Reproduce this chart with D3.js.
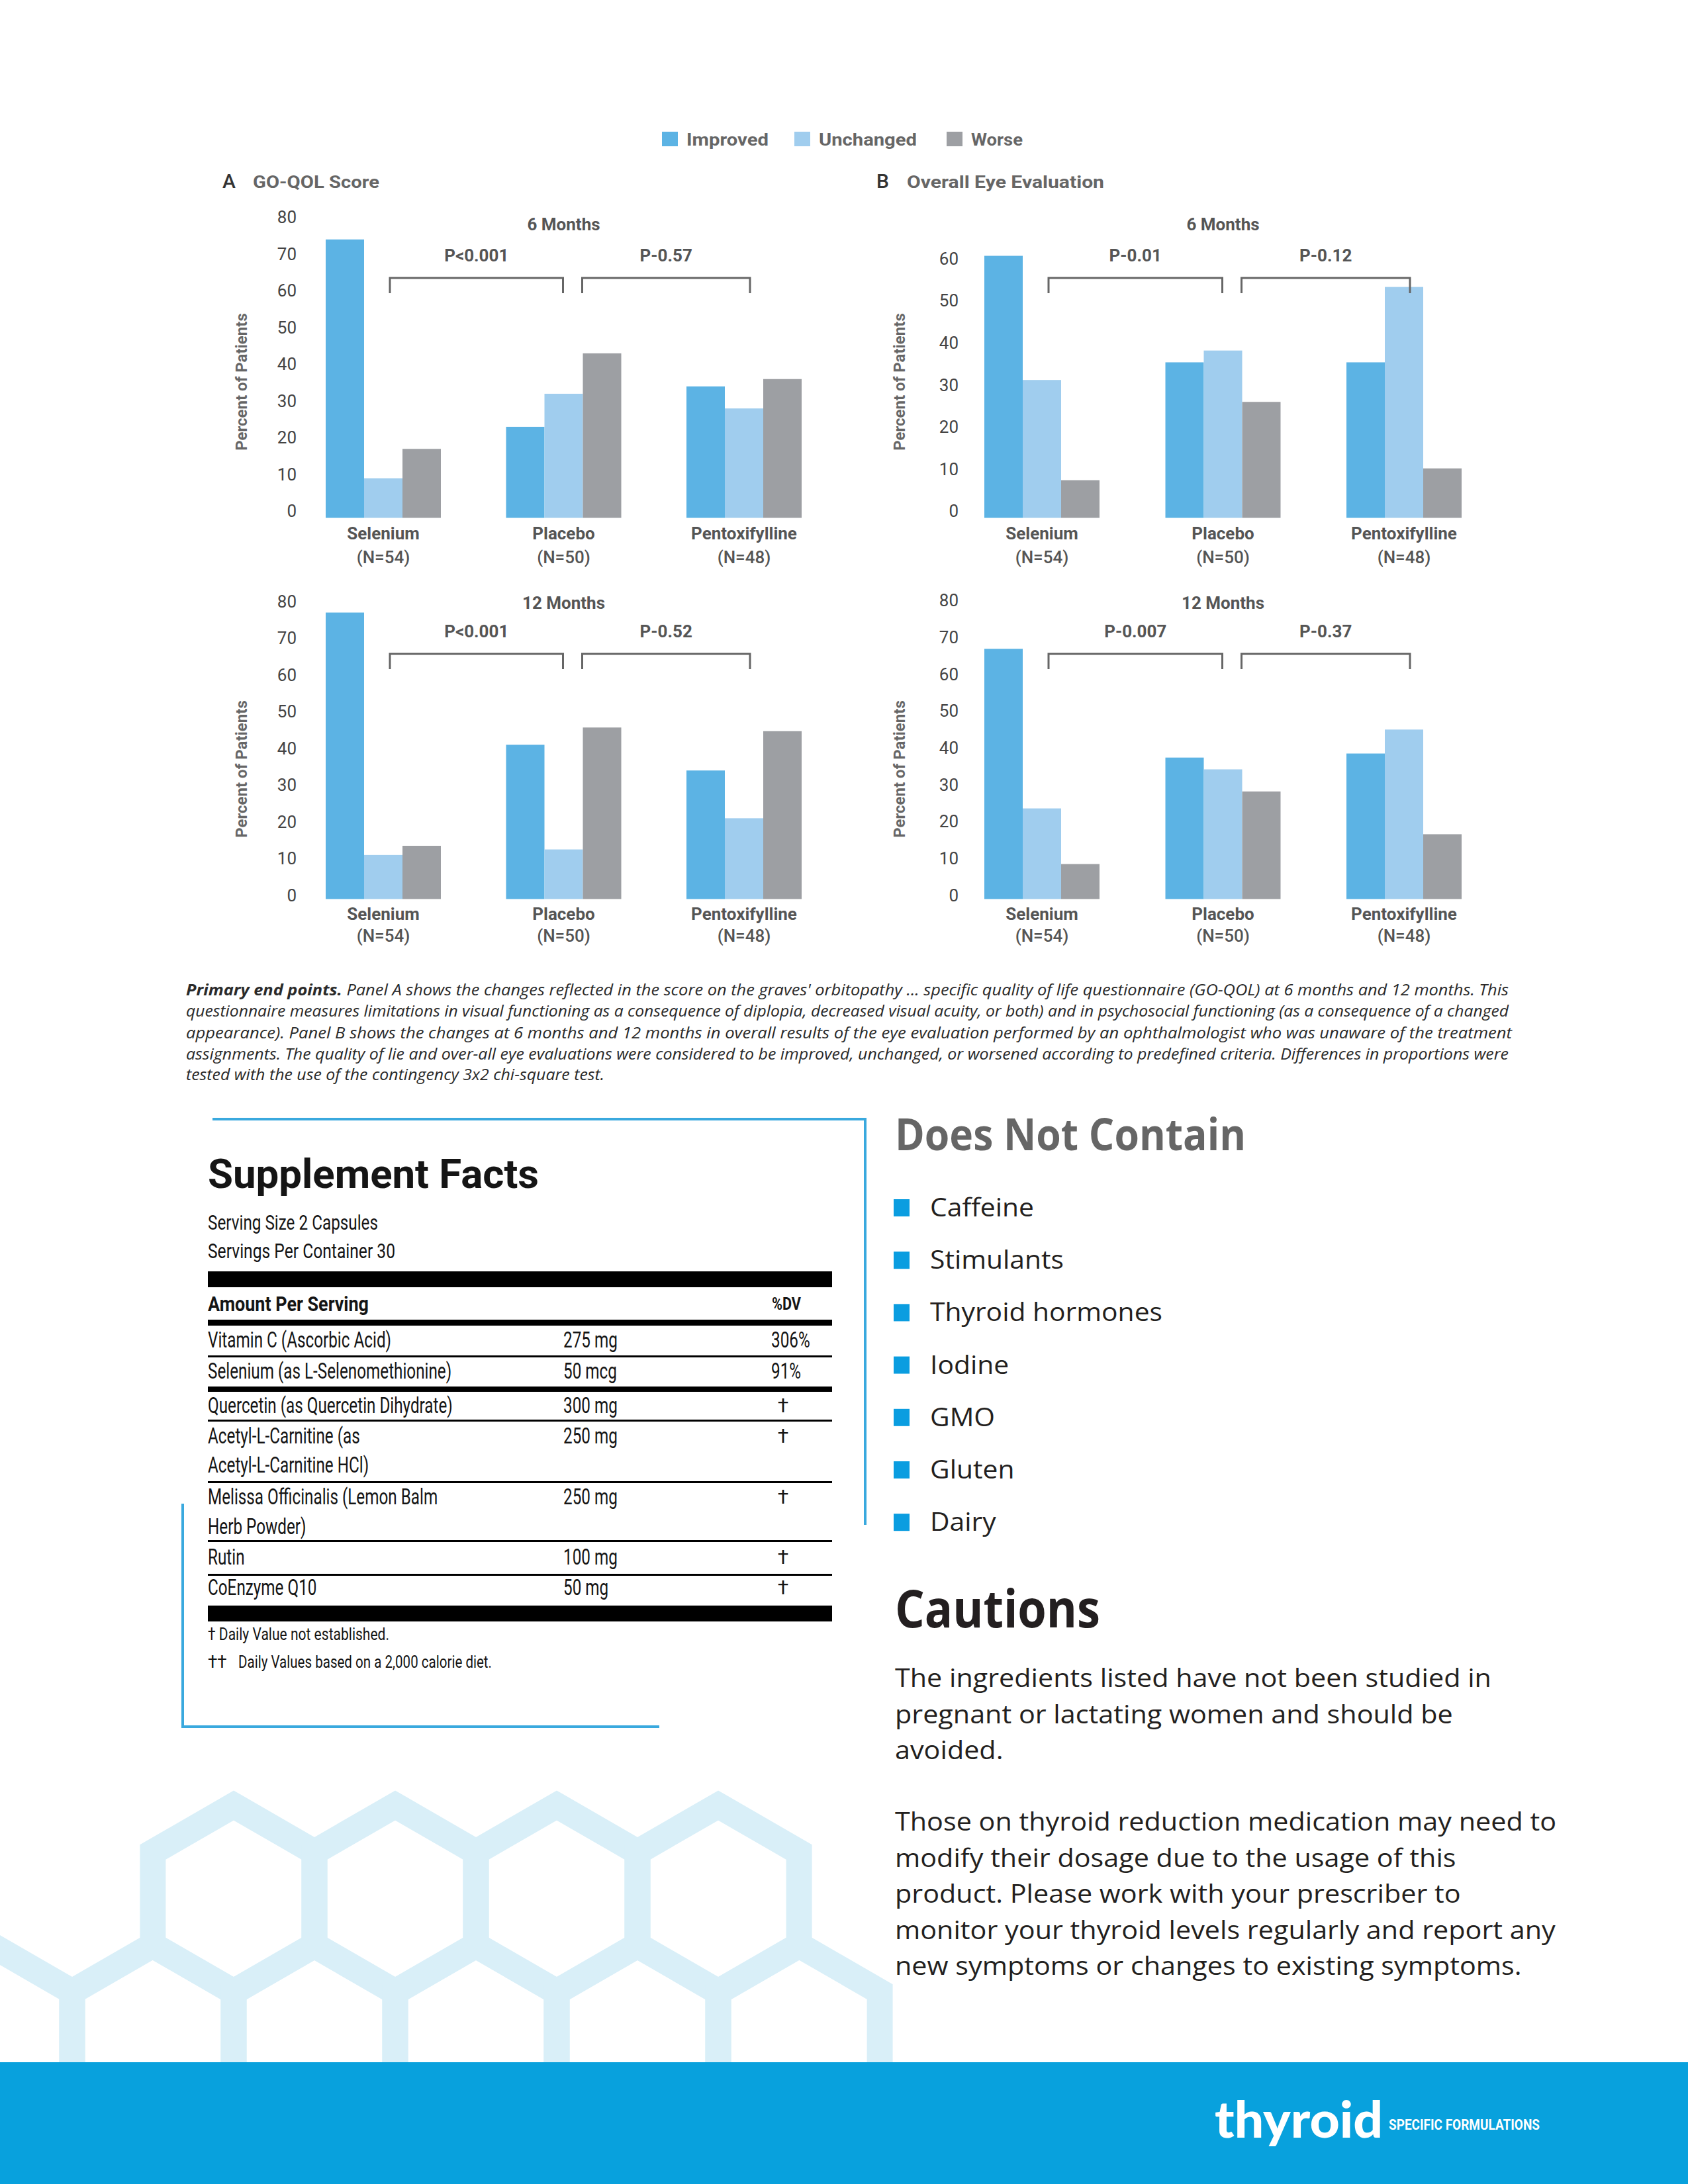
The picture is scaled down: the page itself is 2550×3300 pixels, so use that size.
<!DOCTYPE html>
<html><head><meta charset="utf-8">
<script src="https://cdn.jsdelivr.net/npm/d3@7"></script>
<style>
html,body{margin:0;padding:0;background:#fff;}
svg{display:block;}
</style></head><body>
<svg id="page" width="2550" height="3300"></svg>
<script>
// ---------------- DATA ----------------
const categories = ["Selenium", "Placebo", "Pentoxifylline"];
const groupSizes = ["(N=54)", "(N=50)", "(N=48)"];
const seriesNames = ["Improved", "Unchanged", "Worse"];
const seriesColors = ["#5cb3e4", "#a0cdee", "#9d9fa3"];

// Panel A – GO-QOL score
const goqol6Improved  = [74, 23, 34];
const goqol6Unchanged = [9, 32, 28];
const goqol6Worse     = [17, 43, 36];
const goqol12Improved  = [77, 41, 34];
const goqol12Unchanged = [11, 12.5, 21];
const goqol12Worse     = [13.5, 45.7, 44.7];
// Panel B – Overall eye evaluation
const eye6Improved  = [60.7, 35.4, 35.4];
const eye6Unchanged = [31.2, 38.2, 53.3];
const eye6Worse     = [7.4, 26, 10.2];
const eye12Improved  = [66.9, 37.4, 38.5];
const eye12Unchanged = [23.6, 34.2, 45];
const eye12Worse     = [8.5, 28.2, 16.6];

const ticks80 = [0, 10, 20, 30, 40, 50, 60, 70, 80];
const ticks60 = [0, 10, 20, 30, 40, 50, 60];
const pLabelsA6 = ["P<0.001", "P-0.57"];
const pLabelsA12 = ["P<0.001", "P-0.52"];
const pLabelsB6 = ["P-0.01", "P-0.12"];
const pLabelsB12 = ["P-0.007", "P-0.37"];

const captionLines = [
  " Panel A shows the changes reflected in the score on the graves' orbitopathy ... specific quality of life questionnaire (GO-QOL) at 6 months and 12 months. This",
  "questionnaire measures limitations in visual functioning as a consequence of diplopia, decreased visual acuity, or both) and in psychosocial functioning (as a consequence of a changed",
  "appearance). Panel B shows the changes at 6 months and 12 months in overall results of the eye evaluation performed by an ophthalmologist who was unaware of the treatment",
  "assignments. The quality of lie and over-all eye evaluations were considered to be improved, unchanged, or worsened according to predefined criteria. Differences in proportions were",
  "tested with the use of the contingency 3x2 chi-square test."
];

const ingredientNames = [["Vitamin C (Ascorbic Acid)"], ["Selenium (as L-Selenomethionine)"], ["Quercetin (as Quercetin Dihydrate)"],
  ["Acetyl-L-Carnitine (as", "Acetyl-L-Carnitine HCl)"], ["Melissa Officinalis (Lemon Balm", "Herb Powder)"], ["Rutin"], ["CoEnzyme Q10"]];
const ingredientAmounts = ["275 mg", "50 mcg", "300 mg", "250 mg", "250 mg", "100 mg", "50 mg"];
const ingredientDV = ["306%", "91%", "†", "†", "†", "†", "†"];

const notContainItems = ["Caffeine", "Stimulants", "Thyroid hormones", "Iodine", "GMO", "Gluten", "Dairy"];
const cautionPara1 = ["The ingredients listed have not been studied in", "pregnant or lactating women and should be", "avoided."];
const cautionPara2 = ["Those on thyroid reduction medication may need to", "modify their dosage due to the usage of this",
  "product. Please work with your prescriber to", "monitor your thyroid levels regularly and report any", "new symptoms or changes to existing symptoms."];

// ---------------- HELPERS ----------------
const svg = d3.select("#page");
svg.append("rect").attr("width", 2550).attr("height", 3300).attr("fill", "#fff");
const FONT = "Roboto, 'Open Sans', sans-serif";
function fit(sel, w) { sel.attr("textLength", w).attr("lengthAdjust", "spacingAndGlyphs"); return sel; }
function condenseAll(sel, k) {
  sel.each(function () { const L = this.getComputedTextLength(); d3.select(this).attr("textLength", L * k).attr("lengthAdjust", "spacingAndGlyphs"); });
}

// ---------------- HEX BACKGROUND ----------------
const hexG = svg.append("g");
const HR = 141;
function hexPath(cx, cy) {
  const pts = d3.range(6).map(i => { const a = Math.PI / 180 * (60 * i - 90); return [cx + HR * Math.cos(a), cy + HR * Math.sin(a)]; });
  return "M" + pts.map(p => p.join(",")).join("L") + "Z";
}
[353, 597, 841, 1085].forEach(cx => hexG.append("path").attr("d", hexPath(cx, 2869)));
[-13, 231, 475, 719, 963, 1207].forEach(cx => hexG.append("path").attr("d", hexPath(cx, 3080)));
hexG.selectAll("path").attr("fill", "none").attr("stroke", "#d9eff8").attr("stroke-width", 39).attr("stroke-linejoin", "miter");

// ---------------- LEGEND ----------------
const legendX = [1000, 1200, 1430];
const legendW = [124, 148, 78];
const leg = svg.append("g");
seriesNames.forEach((s, i) => {
  leg.append("rect").attr("x", legendX[i]).attr("y", 199).attr("width", 24).attr("height", 22).attr("fill", seriesColors[i]);
  fit(leg.append("text").attr("x", legendX[i] + 37).attr("y", 211).attr("dy", "0.35em")
    .attr("font-family", FONT).attr("font-weight", 700).attr("font-size", 25).attr("fill", "#666").text(s), legendW[i]);
});

// Panel headings
[[336, 382, "A", "GO-QOL Score", 191], [1324, 1370, "B", "Overall Eye Evaluation", 298]].forEach(h => {
  svg.append("text").attr("x", h[0]).attr("y", 284).attr("font-family", FONT).attr("font-weight", 500)
    .attr("font-size", 30).attr("fill", "#333").text(h[2]);
  fit(svg.append("text").attr("x", h[1]).attr("y", 284).attr("font-family", FONT).attr("font-weight", 700)
    .attr("font-size", 25).attr("fill", "#666").text(h[3]), h[4]);
});

// ---------------- CHART PANELS ----------------
const colLayout = [
  { axisX: 448, c1: 579, c3: 1124, titleX: 365 },
  { axisX: 1448, c1: 1574, c3: 2121, titleX: 1359 }
];
const rowLayout = [
  { zeroY: 772.6, floorY: 782.5, monthY: 339, pY: 386, brY: 420, brY2: 443, catY: 806, nY: 842, titleY: 577 },
  { zeroY: 1352.9, floorY: 1358.4, monthY: 911, pY: 954, brY: 988, brY2: 1011, catY: 1381, nY: 1414, titleY: 1162 }
];
const panels = [
  { col: 0, row: 0, month: "6 Months", ticks: ticks80, topY: 328.5, values: [goqol6Improved, goqol6Unchanged, goqol6Worse], p: pLabelsA6 },
  { col: 1, row: 0, month: "6 Months", ticks: ticks60, topY: 391, values: [eye6Improved, eye6Unchanged, eye6Worse], p: pLabelsB6 },
  { col: 0, row: 1, month: "12 Months", ticks: ticks80, topY: 908.9, values: [goqol12Improved, goqol12Unchanged, goqol12Worse], p: pLabelsA12 },
  { col: 1, row: 1, month: "12 Months", ticks: ticks80, topY: 907.5, values: [eye12Improved, eye12Unchanged, eye12Worse], p: pLabelsB12 }
];

panels.forEach(pn => {
  const C = colLayout[pn.col], Rw = rowLayout[pn.row];
  const g = svg.append("g");
  const x = d3.scalePoint().domain(categories).range([C.c1, C.c3]);
  const xs = d3.scaleBand().domain(seriesNames).range([-87, 87]);
  const y = d3.scaleLinear().domain([0, d3.max(pn.ticks)]).range([Rw.zeroY, pn.topY]);

  // bars
  seriesNames.forEach((s, si) => {
    g.append("g").selectAll("rect").data(pn.values[si]).join("rect")
      .attr("x", (d, i) => x(categories[i]) + xs(s))
      .attr("width", xs.bandwidth())
      .attr("y", d => y(d))
      .attr("height", d => Rw.floorY - y(d))
      .attr("fill", seriesColors[si]);
  });

  // y axis (labels only)
  const ax = g.append("g").attr("transform", `translate(${C.axisX},0)`)
    .call(d3.axisLeft(y).tickValues(pn.ticks).tickSize(0).tickPadding(0).tickFormat(d3.format("d")));
  ax.select(".domain").remove();
  ax.selectAll("text").attr("font-family", FONT).attr("font-size", 26).attr("fill", "#444").attr("font-weight", 400);

  // axis title
  g.append("text").attr("transform", `translate(${C.titleX},${Rw.titleY}) rotate(-90)`).attr("dy", "0.35em")
    .attr("text-anchor", "middle").attr("font-family", FONT).attr("font-weight", 700).attr("font-size", 24)
    .attr("fill", "#666").text("Percent of Patients");

  // category labels
  g.append("g").selectAll("text").data(categories).join("text")
    .attr("x", d => x(d)).attr("y", Rw.catY).attr("dy", "0.35em").attr("text-anchor", "middle")
    .attr("font-family", FONT).attr("font-weight", 700).attr("font-size", 26).attr("fill", "#555").text(d => d);
  g.append("g").selectAll("text").data(groupSizes).join("text")
    .attr("x", (d, i) => x(categories[i])).attr("y", Rw.nY).attr("dy", "0.35em").attr("text-anchor", "middle")
    .attr("font-family", FONT).attr("font-weight", 500).attr("font-size", 26).attr("fill", "#555").text(d => d);

  // title
  g.append("text").attr("x", x(categories[1])).attr("y", Rw.monthY).attr("dy", "0.35em").attr("text-anchor", "middle")
    .attr("font-family", FONT).attr("font-weight", 700).attr("font-size", 26).attr("fill", "#555").text(pn.month);

  // brackets
  const spans = [[x(categories[0]) + 10, x(categories[1]) - 1], [x(categories[1]) + 28, x(categories[2]) + 9]];
  spans.forEach((sp, k) => {
    g.append("path").attr("d", `M${sp[0]},${Rw.brY2}V${Rw.brY}H${sp[1]}V${Rw.brY2}`)
      .attr("fill", "none").attr("stroke", "#666").attr("stroke-width", 3);
    g.append("text").attr("x", (sp[0] + sp[1]) / 2).attr("y", Rw.pY).attr("dy", "0.35em").attr("text-anchor", "middle")
      .attr("font-family", FONT).attr("font-weight", 700).attr("font-size", 26).attr("fill", "#555").text(pn.p[k]);
  });
});

// ---------------- CAPTION ----------------
const capG = svg.append("g").attr("font-family", "'Open Sans', sans-serif").attr("font-style", "italic")
  .attr("font-size", 24).attr("fill", "#2a2a2a");
const capBase = [1504, 1536, 1569, 1601, 1632];
const capW = [1998, 1998, 2003, 1998, 632];
captionLines.forEach((ln, i) => {
  const t = capG.append("text").attr("x", 281).attr("y", capBase[i]);
  if (i === 0) t.append("tspan").attr("font-weight", 700).text("Primary end points.");
  t.append("tspan").text(ln);
  fit(t, capW[i]);
});

// ---------------- SUPPLEMENT FACTS ----------------
const frame = svg.append("g").attr("fill", "none").attr("stroke", "#3aa9de").attr("stroke-width", 4);
frame.append("path").attr("d", "M321,1691H1307V2304");
frame.append("path").attr("d", "M276,2272V2609H996");

const sf = svg.append("g").attr("font-family", FONT).attr("fill", "#151515");
fit(sf.append("text").attr("x", 314).attr("y", 1795).attr("font-weight", 700).attr("font-size", 62).text("Supplement Facts"), 500);
fit(sf.append("text").attr("x", 314).attr("y", 1847).attr("dy", "0.35em").attr("font-size", 31).text("Serving Size 2 Capsules"), 257);
fit(sf.append("text").attr("x", 314).attr("y", 1890).attr("dy", "0.35em").attr("font-size", 31).text("Servings Per Container 30"), 283);
// rules
const ruleY = [[1921, 24], [1994, 9], [2048, 3], [2095, 8], [2145, 3], [2238, 3], [2327, 3], [2378, 3], [2426, 24]];
sf.selectAll("rect.rule").data(ruleY).join("rect").attr("class", "rule")
  .attr("x", 314).attr("width", 943).attr("y", d => d[0]).attr("height", d => d[1]).attr("fill", "#000");
fit(sf.append("text").attr("x", 314).attr("y", 1970).attr("dy", "0.35em").attr("font-weight", 700).attr("font-size", 31).text("Amount Per Serving"), 243);
fit(sf.append("text").attr("x", 1166).attr("y", 1970).attr("dy", "0.35em").attr("font-weight", 700).attr("font-size", 26).text("%DV"), 44);

const rowY = [[2024], [2071], [2123], [2169, 2213], [2261, 2306], [2352], [2398]];
const rowTexts = [];
ingredientNames.forEach((lines, i) => {
  lines.forEach((ln, j) => rowTexts.push(sf.append("text").attr("x", 314).attr("y", rowY[i][j]).attr("dy", "0.35em").attr("font-size", 33).text(ln).node()));
  rowTexts.push(sf.append("text").attr("x", 851).attr("y", rowY[i][0]).attr("dy", "0.35em").attr("font-size", 33).text(ingredientAmounts[i]).node());
  const dv = ingredientDV[i];
  if (dv === "†") sf.append("text").attr("x", 1183).attr("y", rowY[i][0]).attr("dy", "0.35em").attr("text-anchor", "middle").attr("font-size", 30).text(dv);
  else rowTexts.push(sf.append("text").attr("x", 1165).attr("y", rowY[i][0]).attr("dy", "0.35em").attr("font-size", 33).text(dv).node());
});
{
  const ref = rowTexts[0].getComputedTextLength();
  condenseAll(d3.selectAll(rowTexts), 277 / ref);
}
fit(sf.append("text").attr("x", 314).attr("y", 2469).attr("dy", "0.35em").attr("font-size", 26).text("† Daily Value not established."), 274);
sf.append("text").attr("x", 314).attr("y", 2511).attr("dy", "0.35em").attr("font-size", 26).text("††");
fit(sf.append("text").attr("x", 360).attr("y", 2511).attr("dy", "0.35em").attr("font-size", 26).text("Daily Values based on a 2,000 calorie diet."), 383);

// ---------------- DOES NOT CONTAIN ----------------
const BODY = "'Open Sans', sans-serif";
fit(svg.append("text").attr("x", 1352).attr("y", 1738).attr("font-family", BODY).attr("font-weight", 700)
  .attr("font-size", 66).attr("fill", "#666").text("Does Not Contain"), 530);
const listG = svg.append("g");
listG.selectAll("rect").data(notContainItems).join("rect")
  .attr("x", 1350).attr("y", (d, i) => 1812 + i * 79.2).attr("width", 24).attr("height", 26).attr("fill", "#0a9de0");
const itemTexts = listG.selectAll("text").data(notContainItems).join("text")
  .attr("x", 1405).attr("y", (d, i) => 1838 + i * 79.2).attr("font-family", BODY).attr("font-size", 39)
  .attr("fill", "#231f20").text(d => d);
{
  const ref = itemTexts.nodes()[2].getComputedTextLength();
  condenseAll(itemTexts, 351 / ref);
}

// ---------------- CAUTIONS ----------------
fit(svg.append("text").attr("x", 1352).attr("y", 2459).attr("font-family", BODY).attr("font-weight", 700)
  .attr("font-size", 78).attr("fill", "#231f20").text("Cautions"), 310);
const cautG = svg.append("g").attr("font-family", BODY).attr("font-size", 38).attr("fill", "#231f20");
const p1 = cautG.selectAll("text.p1").data(cautionPara1).join("text").attr("class", "p1")
  .attr("x", 1352).attr("y", (d, i) => 2549 + i * 54.5).text(d => d);
const p2 = cautG.selectAll("text.p2").data(cautionPara2).join("text").attr("class", "p2")
  .attr("x", 1352).attr("y", (d, i) => 2766 + i * 54.5).text(d => d);
{
  const ref = p2.nodes()[0].getComputedTextLength();
  const k = 999 / ref;
  condenseAll(p1, k); condenseAll(p2, k);
}

// ---------------- FOOTER ----------------
svg.append("rect").attr("x", 0).attr("y", 3116).attr("width", 2550).attr("height", 184).attr("fill", "#08a1dd");
fit(svg.append("text").attr("x", 1835).attr("y", 3230).attr("font-family", "Lato, 'Open Sans', sans-serif").attr("font-weight", 900)
  .attr("font-size", 76).attr("fill", "#fff").text("thyroid"), 254);
fit(svg.append("text").attr("x", 2098).attr("y", 3218).attr("font-family", FONT).attr("font-weight", 700)
  .attr("font-size", 22).attr("fill", "#fff").text("SPECIFIC FORMULATIONS"), 228);
</script>
</body></html>
